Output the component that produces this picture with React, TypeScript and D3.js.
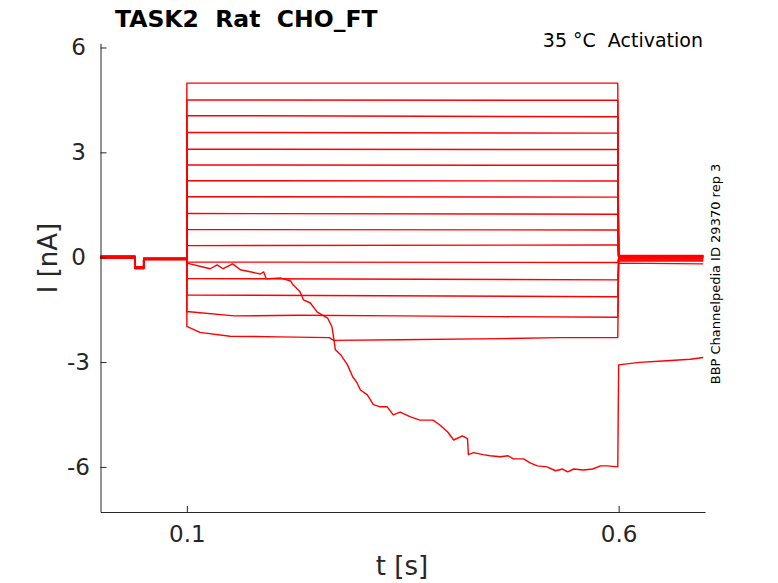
import { useEffect, useRef } from 'react'
import * as d3 from 'd3'

const WIDTH = 778
const HEIGHT = 583

// Flat traces during the voltage pulse, top to bottom (nA)
const flatStart = [4.98, 4.5, 4.05, 3.57, 3.09, 2.64, 2.19, 1.73, 1.25, 0.79, 0.33, -0.14, -0.61, -1.08]
const flatEnd = [4.98, 4.49, 4.02, 3.55, 3.08, 2.63, 2.18, 1.72, 1.23, 0.78, 0.35, -0.15, -0.65, -1.13]

// Traces with visible shape during the pulse: [t (s), I (nA)]
const traceMinus16: [number, number][] = [
  [0.1, -1.56], [0.103, -1.56], [0.155, -1.68], [0.23, -1.66], [0.346, -1.68], [0.462, -1.7], [0.599, -1.72]
]
const traceMinus23: [number, number][] = [
  [0.1, -1.98], [0.115, -2.15], [0.15, -2.26], [0.207, -2.28], [0.265, -2.3], [0.27, -2.38],
  [0.346, -2.36], [0.462, -2.33], [0.531, -2.3], [0.599, -2.3]
]
const traceFalling: [number, number][] = [
  [0.1, -0.17], [0.127, -0.33], [0.135, -0.22], [0.142, -0.33], [0.153, -0.19], [0.162, -0.36],
  [0.185, -0.48], [0.189, -0.42], [0.192, -0.62], [0.208, -0.59], [0.22, -0.68], [0.223, -0.79],
  [0.231, -0.99], [0.235, -1.22], [0.243, -1.31], [0.251, -1.57], [0.263, -1.74], [0.268, -1.99],
  [0.27, -2.31], [0.272, -2.65], [0.278, -2.79], [0.286, -3.08], [0.292, -3.42], [0.297, -3.59],
  [0.301, -3.8], [0.309, -3.94], [0.316, -4.22], [0.324, -4.28], [0.332, -4.28], [0.339, -4.51],
  [0.347, -4.43], [0.359, -4.57], [0.37, -4.66], [0.385, -4.66], [0.393, -4.8], [0.402, -5.0],
  [0.409, -5.23], [0.419, -5.11], [0.425, -5.19], [0.426, -5.65], [0.432, -5.59], [0.443, -5.65],
  [0.451, -5.68], [0.463, -5.71], [0.472, -5.68], [0.478, -5.77], [0.49, -5.77], [0.498, -5.89],
  [0.506, -5.97], [0.517, -6.0], [0.527, -6.11], [0.535, -6.06], [0.541, -6.14], [0.548, -6.06],
  [0.559, -6.09], [0.57, -6.06], [0.579, -5.97], [0.587, -5.97], [0.599, -6.0]
]
const fallingTail: [number, number][] = [
  [0.6, -3.08], [0.624, -3.01], [0.651, -2.97], [0.683, -2.92], [0.698, -2.87]
]

// Holding / pre-pulse and tail levels per trace (flat ones, then -1.6, -2.3, falling)
const holdLevels = [0.03, 0.03, 0.02, 0.02, 0.02, 0.01, 0.01, 0.0, 0.0, -0.01, -0.01, -0.01, -0.02, -0.02, -0.02, -0.03, -0.02]
const dipLevels = [-0.28, -0.28, -0.28, -0.29, -0.29, -0.29, -0.3, -0.3, -0.3, -0.31, -0.31, -0.31, -0.32, -0.32, -0.32, -0.33, -0.3]
const afterDipLevels = [-0.03, -0.03, -0.03, -0.04, -0.04, -0.04, -0.05, -0.05, -0.05, -0.05, -0.06, -0.06, -0.06, -0.07, -0.07, -0.07, -0.05]
const tailLevels = [0.05, 0.04, 0.04, 0.03, 0.03, 0.02, 0.02, 0.01, 0.01, 0.0, -0.01, -0.03, -0.05, -0.08, -0.11, -0.17]

const dipOn = 0.04
const dipOff = 0.05
const tEnd = 0.698

const yTicks = [-6, -3, 0, 3, 6]
const xTicks = [0.1, 0.6]

const App = () => {
  const svgRef = useRef<SVGSVGElement>(null)

  useEffect(() => {
    document.body.style.margin = '0'
    if (!svgRef.current) return
    const svg = d3.select(svgRef.current)
    svg.selectAll('*').remove()

    const x = d3.scaleLinear().domain([0, 0.7]).range([100.5, 705])
    const y = d3.scaleLinear().domain([-7.29, 6.12]).range([512, 43.3])

    const font = "'DejaVu Sans', sans-serif"

    // build each sweep: holding, pulse, tail
    const hold = (i: number): [number, number][] => [
      [0, holdLevels[i]],
      [dipOn, holdLevels[i]],
      [dipOn, dipLevels[i]],
      [dipOff, dipLevels[i]],
      [dipOff, afterDipLevels[i]],
      [0.1, afterDipLevels[i]]
    ]

    const sweeps: [number, number][][] = []
    flatStart.forEach((s, i) => {
      sweeps.push([
        ...hold(i),
        [0.1, s],
        [0.599, flatEnd[i]],
        [0.6, tailLevels[i]],
        [tEnd, tailLevels[i]]
      ])
    })
    sweeps.push([...hold(14), ...traceMinus16, [0.6, tailLevels[14]], [tEnd, tailLevels[14]]])
    sweeps.push([...hold(15), ...traceMinus23, [0.6, tailLevels[15]], [tEnd, tailLevels[15] - 0.02]])
    sweeps.push([...hold(16), ...traceFalling, ...fallingTail])

    const line = d3
      .line<[number, number]>()
      .x(d => x(d[0]))
      .y(d => y(d[1]))

    svg
      .append('g')
      .selectAll('path')
      .data(sweeps)
      .enter()
      .append('path')
      .attr('d', line)
      .attr('fill', 'none')
      .attr('stroke', '#ff0000')
      .attr('stroke-width', 1.4)
      .attr('stroke-linejoin', 'round')

    // axes with inward ticks
    const axisColor = '#262626'
    const gy = svg
      .append('g')
      .attr('transform', `translate(${x.range()[0]},0)`)
      .call(
        d3.axisLeft(y).tickValues(yTicks).tickSizeInner(-6).tickSizeOuter(0).tickPadding(22)
          .tickFormat(d => String(d))
      )
    gy.selectAll('.tick text').attr('text-anchor', 'middle')
    const gx = svg
      .append('g')
      .attr('transform', `translate(0,${y.range()[0]})`)
      .call(
        d3.axisBottom(x).tickValues(xTicks).tickSizeInner(-6).tickSizeOuter(0).tickPadding(14).tickFormat(d3.format('.1f'))
      )
    ;[gy, gx].forEach(g => {
      g.select('.domain').attr('stroke', axisColor)
      g.selectAll('line').attr('stroke', axisColor)
      g.selectAll('text').attr('fill', axisColor).style('font-family', font).style('font-size', '23px')
    })

    // axis labels
    svg
      .append('text')
      .attr('x', 402)
      .attr('y', 575)
      .attr('text-anchor', 'middle')
      .style('font-family', font)
      .style('font-size', '26px')
      .attr('fill', axisColor)
      .text('t [s]')

    svg
      .append('text')
      .attr('transform', `translate(57,258) rotate(-90)`)
      .attr('text-anchor', 'middle')
      .style('font-family', font)
      .style('font-size', '26px')
      .attr('fill', axisColor)
      .text('I [nA]')

    // title and annotations
    svg
      .append('text')
      .attr('x', 115)
      .attr('y', 26.7)
      .style('font-family', font)
      .style('font-size', '23.5px')
      .style('font-weight', 'bold')
      .attr('fill', '#000')
      .style('white-space', 'pre')
      .text('TASK2  Rat  CHO_FT')

    svg
      .append('text')
      .attr('x', 703)
      .attr('y', 47.3)
      .attr('text-anchor', 'end')
      .style('font-family', font)
      .style('font-size', '19px')
      .style('white-space', 'pre')
      .attr('fill', '#000')
      .text('35 °C  Activation')

    svg
      .append('text')
      .attr('transform', `translate(720,274) rotate(-90)`)
      .attr('text-anchor', 'middle')
      .style('font-family', font)
      .style('font-size', '13px')
      .attr('fill', '#000')
      .text('BBP Channelpedia ID 29370 rep 3')
  }, [])

  return <svg ref={svgRef} width={WIDTH} height={HEIGHT} style={{ display: 'block', background: '#fff' }} />
}

export default App
